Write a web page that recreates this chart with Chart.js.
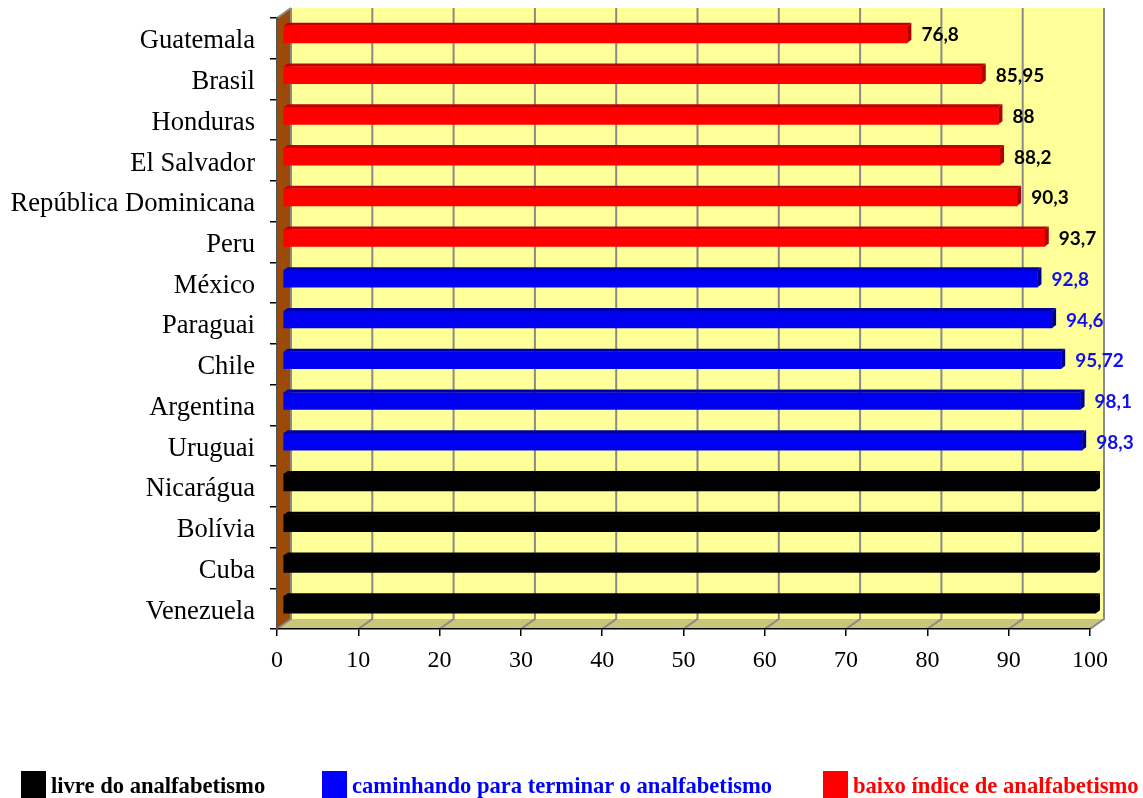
<!DOCTYPE html>
<html lang="pt">
<head>
<meta charset="utf-8">
<title>Alfabetização na América Latina</title>
<script src="https://cdn.jsdelivr.net/npm/chart.js@4.4.1/dist/chart.umd.min.js"></script>
<style>
  html, body { margin: 0; padding: 0; background: #ffffff; }
  #wrap { position: relative; width: 1143px; height: 798px; overflow: hidden; }
  #chart { position: absolute; left: 0; top: 0; }
  .leg { position: absolute; top: 771px; height: 30px; font-family: "Liberation Serif", "Times New Roman", serif;
         font-weight: bold; font-size: 22.6px; line-height: 23px; white-space: nowrap; }
  .leg .sw { position: absolute; left: 0; top: 0; width: 25px; height: 30px; }
  .leg .tx { position: absolute; top: 3px; left: 30px; }
</style>
</head>
<body>
<div id="wrap">
  <canvas id="chart" width="1143" height="798"></canvas>
  <div class="leg" style="left:21px;"><span class="sw" style="background:#000000"></span><span class="tx" style="color:#000000">livre do analfabetismo</span></div>
  <div class="leg" style="left:322px;"><span class="sw" style="background:#0000ff"></span><span class="tx" style="color:#0000ff">caminhando para terminar o analfabetismo</span></div>
  <div class="leg" style="left:823px;"><span class="sw" style="background:#ff0000"></span><span class="tx" style="color:#ff0000">baixo índice de analfabetismo</span></div>
</div>
<script>
// Countries, top to bottom
const countries = [
  'Guatemala', 'Brasil', 'Honduras', 'El Salvador', 'República Dominicana', 'Peru',
  'México', 'Paraguai', 'Chile', 'Argentina', 'Uruguai',
  'Nicarágua', 'Bolívia', 'Cuba', 'Venezuela'
];

// Literacy rate (%) per group, aligned with countries (null = not in group)
const baixoIndice = [76.8, 85.95, 88, 88.2, 90.3, 93.7, null, null, null, null, null, null, null, null, null];
const caminhando  = [null, null, null, null, null, null, 92.8, 94.6, 95.72, 98.1, 98.3, null, null, null, null];
const livre       = [null, null, null, null, null, null, null, null, null, null, null, 100, 100, 100, 100];

// Axis range
const xMin = 0;
const xMax = 100;
const xStep = 10;

// 3D look
const DEPTH_X = 14, DEPTH_Y = -10;   // back wall offset
const BAR_DX = 6, BAR_DY = -4;       // bars sit half-way into the depth
const BAR_SIDE_X = 4, BAR_SIDE_Y = -3;

const shades = {
  '#ff0000': { top: '#c00000', side: '#b00000', label: '#000000' },
  '#0000f0': { top: '#0000a0', side: '#000090', label: '#1010ee' },
  '#000000': { top: '#000000', side: '#000000', label: null }
};

const walls3d = {
  id: 'walls3d',
  beforeDraw(chart) {
    const { ctx, chartArea: a } = chart;
    const xs = chart.scales.x;
    ctx.save();
    ctx.fillStyle = '#ffffff';
    ctx.fillRect(0, 0, chart.width, chart.height);

    // back wall
    ctx.fillStyle = '#ffff99';
    ctx.fillRect(a.left + DEPTH_X, a.top + DEPTH_Y, a.right - a.left, a.bottom - a.top);

    // left side wall
    ctx.fillStyle = '#9c4a06';
    ctx.beginPath();
    ctx.moveTo(a.left, a.top);
    ctx.lineTo(a.left + DEPTH_X, a.top + DEPTH_Y);
    ctx.lineTo(a.left + DEPTH_X, a.bottom + DEPTH_Y);
    ctx.lineTo(a.left, a.bottom);
    ctx.closePath();
    ctx.fill();

    // floor
    ctx.fillStyle = '#c9c57a';
    ctx.beginPath();
    ctx.moveTo(a.left, a.bottom);
    ctx.lineTo(a.left + DEPTH_X, a.bottom + DEPTH_Y);
    ctx.lineTo(a.right + DEPTH_X, a.bottom + DEPTH_Y);
    ctx.lineTo(a.right, a.bottom);
    ctx.closePath();
    ctx.fill();

    // gridlines on wall and floor
    ctx.strokeStyle = '#8a8a8a';
    ctx.lineWidth = 2;
    for (let v = xMin; v <= xMax; v += xStep) {
      const px = xs.getPixelForValue(v);
      ctx.beginPath();
      ctx.moveTo(px + DEPTH_X, a.top + DEPTH_Y);
      ctx.lineTo(px + DEPTH_X, a.bottom + DEPTH_Y);
      ctx.lineTo(px, a.bottom);
      ctx.stroke();
    }
    // top edge of the side wall
    ctx.beginPath();
    ctx.moveTo(a.left, a.top);
    ctx.lineTo(a.left + DEPTH_X, a.top + DEPTH_Y);
    ctx.stroke();
    ctx.restore();
  },
  beforeDatasetsDraw(chart) {
    chart.ctx.save();
    chart.ctx.translate(BAR_DX, BAR_DY);
  },
  afterDatasetsDraw(chart) {
    const ctx = chart.ctx;
    chart.data.datasets.forEach((ds, di) => {
      const meta = chart.getDatasetMeta(di);
      const sh = shades[ds.backgroundColor];
      meta.data.forEach((el, i) => {
        const v = ds.data[i];
        if (v === null || v === undefined) return;
        const top = el.y - el.height / 2;
        const bot = el.y + el.height / 2;
        const x0 = el.base, x1 = el.x;
        // top face
        ctx.fillStyle = sh.top;
        ctx.beginPath();
        ctx.moveTo(x0, top);
        ctx.lineTo(x0 + BAR_SIDE_X, top + BAR_SIDE_Y);
        ctx.lineTo(x1 + BAR_SIDE_X, top + BAR_SIDE_Y);
        ctx.lineTo(x1, top);
        ctx.closePath();
        ctx.fill();
        // end face
        ctx.fillStyle = sh.side;
        ctx.beginPath();
        ctx.moveTo(x1, top);
        ctx.lineTo(x1 + BAR_SIDE_X, top + BAR_SIDE_Y);
        ctx.lineTo(x1 + BAR_SIDE_X, bot + BAR_SIDE_Y);
        ctx.lineTo(x1, bot);
        ctx.closePath();
        ctx.fill();
        // value label
        if (sh.label) {
          ctx.fillStyle = sh.label;
          ctx.font = 'bold 19px Lato, "Open Sans", sans-serif';
          ctx.textAlign = 'left';
          ctx.textBaseline = 'middle';
          ctx.fillText(String(v).replace('.', ','), x1 + 14, el.y + 1);
        }
      });
    });
    ctx.restore();
  }
};

const serif = (size) => ({ family: '"Liberation Serif", "Times New Roman", serif', size });

new Chart(document.getElementById('chart'), {
  type: 'bar',
  data: {
    labels: countries,
    datasets: [
      { label: 'livre do analfabetismo', data: livre, backgroundColor: '#000000' },
      { label: 'caminhando para terminar o analfabetismo', data: caminhando, backgroundColor: '#0000f0' },
      { label: 'baixo índice de analfabetismo', data: baixoIndice, backgroundColor: '#ff0000' }
    ]
  },
  options: {
    indexAxis: 'y',
    responsive: false,
    animation: false,
    devicePixelRatio: 1,
    layout: { padding: { left: 0, top: 18, right: 53, bottom: 0 } },
    datasets: { bar: { grouped: false, barThickness: 17, borderWidth: 0 } },
    plugins: { legend: { display: false }, tooltip: { enabled: false } },
    scales: {
      x: {
        min: xMin, max: xMax,
        ticks: { stepSize: xStep, color: '#000000', font: serif(24), padding: 10, maxRotation: 0 },
        grid: { drawOnChartArea: false, tickLength: 7, color: '#000000', lineWidth: 1.5 },
        border: { color: '#000000', width: 1.5 },
        afterFit(s) { s.height = 798 - 629; s.paddingLeft = 0; s.paddingRight = 0; }
      },
      y: {
        ticks: { color: '#000000', font: serif(26.6), padding: 15, labelOffset: 3 },
        grid: { drawOnChartArea: false, tickLength: 7, color: '#000000', lineWidth: 1.5, offset: true },
        border: { color: '#555555', width: 2 },
        afterFit(s) { s.width = 277; s.paddingTop = 0; s.paddingBottom = 0; }
      }
    }
  },
  plugins: [walls3d]
});
</script>
</body>
</html>
